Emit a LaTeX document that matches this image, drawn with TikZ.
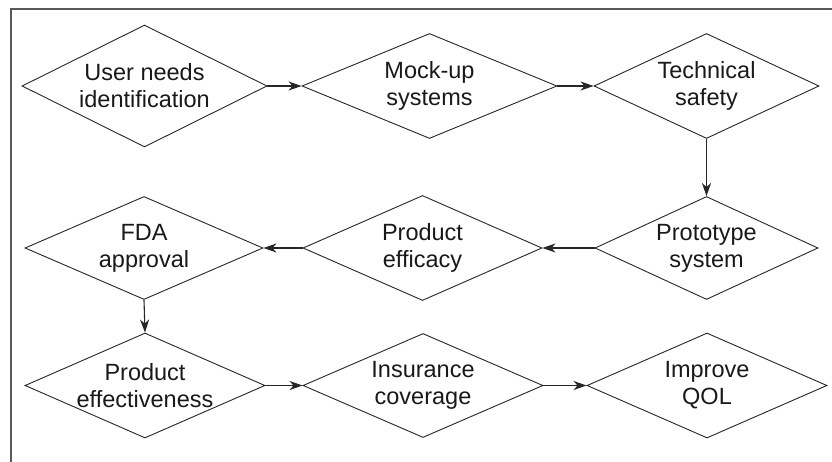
\documentclass[tikz,border=0pt]{standalone}
\usepackage{fontspec}
\setmainfont{Liberation Sans}
\usetikzlibrary{shapes.geometric,arrows.meta}
\begin{document}
\begin{tikzpicture}[x=1pt,y=-1pt,
  dia/.style={shape=diamond,draw=black!85,line width=0.9pt,inner sep=0pt,align=center,
    font=\fontsize{23.5}{27}\selectfont,text=black!90},
  flow/.style={draw=black!85,line width=1.1pt,-{Stealth[length=13pt,width=9pt,inset=4pt]}},
  frame/.style={draw=black!65,line width=2pt}]
\useasboundingbox (0,0) rectangle (832,462);
\draw[frame] (10.5,462) -- (10.5,9.5) -- (832,9.5);
\node[dia,minimum width=245pt,minimum height=122pt,aspect=2] (d1) at (144.5,86) {User needs\\identification};
\node[dia,minimum width=255pt,minimum height=105pt,aspect=2.43] (d2) at (429.5,86) {Mock-up\\systems};
\node[dia,minimum width=225pt,minimum height=105pt,aspect=2.14] (d3) at (706.5,86) {Technical\\safety};
\node[dia,minimum width=223pt,minimum height=103pt,aspect=2.16] (d4) at (706.5,248) {Prototype\\system};
\node[dia,minimum width=239pt,minimum height=105pt,aspect=2.28] (d5) at (422.5,248) {Product\\efficacy};
\node[dia,minimum width=238pt,minimum height=103pt,aspect=2.31] (d6) at (144,248) {FDA\\approval};
\node[dia,minimum width=240pt,minimum height=105pt,aspect=2.28] (d7) at (145,385.5) {Product\\effectiveness};
\node[dia,minimum width=240pt,minimum height=104pt,aspect=2.3] (d8) at (423,385.5) {Insurance\\coverage};
\node[dia,minimum width=240pt,minimum height=105pt,aspect=2.28] (d9) at (707,385.5) {Improve\\QOL};
\draw[flow] (d1.east) -- (d2.west);
\draw[flow] (d2.east) -- (d3.west);
\draw[flow] (d3.south) -- (d4.north);
\draw[flow] (d4.west) -- (d5.east);
\draw[flow] (d5.west) -- (d6.east);
\draw[flow] (d6.south) -- (d7.north);
\draw[flow] (d7.east) -- (d8.west);
\draw[flow] (d8.east) -- (d9.west);
\end{tikzpicture}
\end{document}
